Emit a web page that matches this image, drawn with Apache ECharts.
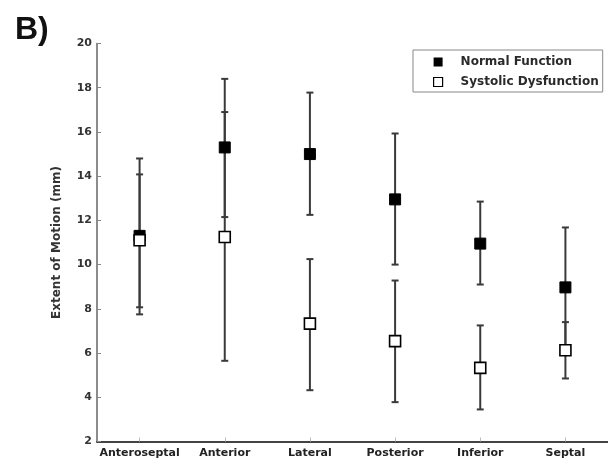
<!DOCTYPE html>
<html>
<head>
<meta charset="utf-8">
<script src="https://cdn.jsdelivr.net/npm/echarts@6/dist/echarts.min.js"></script>
<style>html,body{margin:0;padding:0;background:#fff;}#c{width:608px;height:465px;}</style>
</head>
<body>
<div id="c"></div>
<script>
var categories = ['Anteroseptal', 'Anterior', 'Lateral', 'Posterior', 'Inferior', 'Septal'];
var normalMean = [11.3, 15.3, 15.0, 12.95, 10.95, 8.97];
var normalLow  = [7.75, 12.15, 12.25, 10.0, 9.1, 6.27];
var normalHigh = [14.8, 18.4, 17.78, 15.93, 12.85, 11.68];
var sysMean = [11.1, 11.25, 7.33, 6.54, 5.33, 6.13];
var sysLow  = [8.07, 5.65, 4.32, 3.78, 3.45, 4.85];
var sysHigh = [14.08, 16.9, 10.25, 9.28, 7.25, 7.4];
var yTicks = [2, 4, 6, 8, 10, 12, 14, 16, 18, 20];

var FONT = 'DejaVu Sans';

function errData(low, high) {
  return categories.map(function (c, i) { return [i, low[i], high[i]]; });
}
function renderErr(params, api) {
  var x = api.value(0);
  var lo = api.coord([x, api.value(1)]);
  var hi = api.coord([x, api.value(2)]);
  var cw = 3.5;
  var st = { stroke: '#3a3a3a', lineWidth: 2 };
  return {
    type: 'group',
    children: [
      { type: 'line', shape: { x1: lo[0], y1: lo[1], x2: hi[0], y2: hi[1] }, style: st },
      { type: 'line', shape: { x1: lo[0] - cw, y1: lo[1], x2: lo[0] + cw, y2: lo[1] }, style: st },
      { type: 'line', shape: { x1: hi[0] - cw, y1: hi[1], x2: hi[0] + cw, y2: hi[1] }, style: st }
    ]
  };
}

var chart = echarts.init(document.getElementById('c'), null, { renderer: 'canvas' });
chart.setOption({
  animation: false,
  backgroundColor: '#fff',
  title: {
    text: 'B)', left: 10, top: 9,
    textStyle: { fontFamily: 'Liberation Sans', fontSize: 32, fontWeight: 'bold', color: '#111' }
  },
  legend: {
    orient: 'vertical',
    left: 413, top: 50,
    padding: [5, 4, 3, 20],
    itemGap: 6,
    itemWidth: 9, itemHeight: 9,
    borderColor: '#888', borderWidth: 1,
    textStyle: { fontFamily: FONT, fontSize: 12, fontWeight: 'bold', color: '#2a2a2a', padding: [0, 0, 0, 13], lineHeight: 14 },
    data: [
      { name: 'Normal Function', icon: 'rect', itemStyle: { color: '#000', borderWidth: 0 } },
      { name: 'Systolic Dysfunction', icon: 'rect', itemStyle: { color: '#fff', borderColor: '#000', borderWidth: 1.2 } }
    ]
  },
  grid: { left: 97, right: -3, top: 43.5, bottom: 23.5, containLabel: false },
  xAxis: {
    type: 'category',
    data: categories,
    boundaryGap: true,
    axisLine: { lineStyle: { color: '#444', width: 2 } },
    axisTick: { show: true, inside: true, alignWithLabel: true, length: 4, lineStyle: { color: '#bbb' } },
    axisLabel: { fontFamily: FONT, fontSize: 11, fontWeight: 'bold', color: '#222', margin: 6, interval: 0 }
  },
  yAxis: {
    type: 'value',
    min: 2, max: 20, interval: 2,
    name: 'Extent of Motion (mm)',
    nameLocation: 'middle',
    nameGap: 34,
    nameTextStyle: { fontFamily: FONT, fontSize: 12, fontWeight: 'bold', color: '#333' },
    splitLine: { show: false },
    axisLine: { show: true, lineStyle: { color: '#666', width: 1.5 } },
    axisTick: { show: true, inside: true, length: 4, lineStyle: { color: '#888' } },
    axisLabel: {
      fontFamily: FONT, fontSize: 11, fontWeight: 'bold', color: '#333', margin: 5,
      formatter: function (v) { return yTicks.indexOf(v) >= 0 ? String(v) : ''; }
    }
  },
  series: [
    { type: 'custom', name: 'errN', renderItem: renderErr, data: errData(normalLow, normalHigh), z: 1, silent: true },
    { type: 'custom', name: 'errS', renderItem: renderErr, data: errData(sysLow, sysHigh), z: 1, silent: true },
    {
      type: 'scatter', name: 'Normal Function', symbol: 'rect', symbolSize: 11, z: 3,
      itemStyle: { color: '#000', borderColor: '#000', borderWidth: 1, opacity: 1 },
      data: normalMean
    },
    {
      type: 'scatter', name: 'Systolic Dysfunction', symbol: 'rect', symbolSize: 11, z: 4,
      itemStyle: { color: '#fff', borderColor: '#000', borderWidth: 1.6, opacity: 1 },
      data: sysMean
    }
  ]
});
</script>
</body>
</html>
